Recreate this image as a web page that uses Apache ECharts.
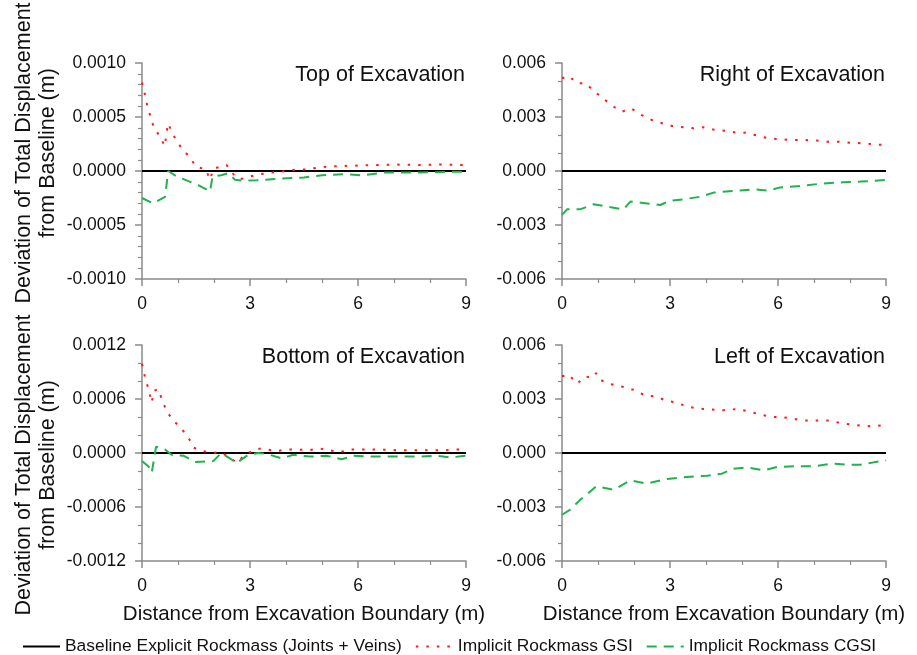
<!DOCTYPE html>
<html>
<head>
<meta charset="utf-8">
<script src="https://cdn.jsdelivr.net/npm/echarts@6/dist/echarts.min.js"></script>
<style>
  html, body { margin: 0; padding: 0; background: #fff; }
  #chart { width: 917px; height: 655px; }
</style>
</head>
<body>
<div id="chart"></div>
<script>
// Series names
const seriesNames = [
  'Baseline Explicit Rockmass (Joints + Veins)',
  'Implicit Rockmass GSI',
  'Implicit Rockmass CGSI'
];
const panelTitles = ['Top of Excavation', 'Right of Excavation', 'Bottom of Excavation', 'Left of Excavation'];
const yTitle = 'Deviation of Total Displacement\nfrom Baseline (m)';
const xTitle = 'Distance from Excavation Boundary (m)';

// Baseline (reference model) deviation is zero by definition
const baseX = [0, 9];
const baseY = [0, 0];

// Top of excavation
const topGsiX = [0, 0.08, 0.15, 0.24, 0.33, 0.5, 0.63, 0.67, 0.72, 0.81, 0.95, 1.13, 1.32, 1.5, 1.77, 1.89, 1.98, 2.17, 2.35, 2.54, 2.72, 3.0, 3.28, 3.55, 3.88, 4.2, 4.53, 5.13, 5.5, 6.0, 6.5, 7.0, 7.7, 8.3, 9.0];
const topGsi = [0.00082, 0.00071, 0.0006, 0.0005, 0.0004, 0.00032, 0.00023, 0.00032, 0.00044, 0.00038, 0.00028, 0.0002, 0.00013, 0.00004, 0.000015, -0.00008, 0.00002, 0.00004, 0.000055, -0.00003, -0.000077, -0.00005, -0.00003, -0.000015, -0.000006, 0.00001, 0.000015, 0.00004, 0.000046, 0.00005, 0.000055, 0.00006, 0.000055, 0.00006, 0.000055];
const topCgsiX = [0, 0.31, 0.64, 0.73, 0.96, 1.56, 1.89, 1.96, 2.2, 2.4, 2.58, 2.8, 3.2, 3.9, 4.5, 5.0, 5.6, 6.15, 6.7, 7.5, 8.3, 9.0];
const topCgsi = [-0.00025, -0.0003, -0.00024, 0, -0.00005, -0.00013, -0.00019, -0.00005, -0.00004, -0.00002, -0.00008, -0.00009, -0.000085, -0.00007, -0.00006, -0.00004, -0.00003, -0.00004, -0.000015, -0.000015, -0.00001, -0.000005];

// Right of excavation
const rightGsiX = [0, 0.19, 0.42, 0.65, 0.88, 1.16, 1.44, 1.67, 1.92, 2.22, 2.5, 2.78, 3.06, 3.38, 3.66, 3.94, 4.2, 4.5, 4.86, 5.1, 5.45, 5.78, 6.1, 6.44, 6.76, 7.08, 7.36, 7.69, 8.01, 8.33, 8.66, 9.0];
const rightGsi = [0.00515, 0.00528, 0.00487, 0.00487, 0.00446, 0.004, 0.00357, 0.0033, 0.00348, 0.0031, 0.00283, 0.00265, 0.0025, 0.00243, 0.00237, 0.00243, 0.0023, 0.00224, 0.00213, 0.00213, 0.00195, 0.0018, 0.00176, 0.00172, 0.00172, 0.00169, 0.00163, 0.00163, 0.00157, 0.00154, 0.00148, 0.00144];
const rightCgsiX = [0, 0.14, 0.5, 0.88, 1.25, 1.71, 1.9, 2.36, 2.73, 3.0, 3.38, 3.84, 4.21, 4.77, 5.32, 5.74, 6.06, 6.6, 7.27, 7.82, 8.29, 9.0];
const rightCgsi = [-0.00244, -0.00213, -0.00213, -0.00185, -0.00198, -0.00213, -0.0017, -0.0018, -0.00189, -0.00165, -0.00157, -0.00143, -0.0012, -0.00111, -0.00102, -0.00109, -0.00091, -0.00083, -0.00069, -0.00063, -0.00059, -0.0005];

// Bottom of excavation
const bottomGsiX = [0, 0.08, 0.18, 0.27, 0.33, 0.45, 0.57, 0.69, 0.87, 1.1, 1.32, 1.43, 1.7, 1.94, 2.17, 2.44, 2.63, 2.86, 3.19, 3.46, 3.74, 4.0, 4.3, 4.6, 4.94, 5.2, 5.5, 5.8, 6.15, 6.5, 7.17, 7.77, 8.4, 8.8, 9.0];
const bottomGsi = [0.00099, 0.00085, 0.00071, 0.00056, 0.00069, 0.00071, 0.00058, 0.00046, 0.00036, 0.00027, 0.00015, 0.00006, 0.00002, 0, 0.00001, -0.00005, -0.00011, -0.00002, 0.00005, 0.00004, 0.00002, 0.00004, 0.00004, 0.00003, 0.00005, 0.00003, 0.00001, 0.00004, 0.00004, 0.00004, 0.00003, 0.00003, 0.00003, 0.00004, 0.00004];
const bottomCgsiX = [0, 0.18, 0.27, 0.39, 0.64, 0.82, 1.15, 1.47, 1.98, 2.2, 2.44, 2.63, 2.95, 3.23, 3.46, 3.88, 4.2, 4.67, 5.13, 5.55, 5.87, 6.43, 7.07, 7.72, 8.18, 8.55, 9.0];
const bottomCgsi = [-0.00009, -0.00015, -0.00022, 0.00007, 0.00004, -0.00002, -0.00003, -0.0001, -0.00009, 0, -0.00006, -0.00011, -0.00002, 0, -0.00001, -0.00006, -0.00002, -0.00004, -0.00003, -0.00007, -0.00003, -0.00004, -0.00004, -0.00004, -0.00003, -0.00005, -0.00003];

// Left of excavation
const leftGsiX = [0, 0.19, 0.42, 0.65, 0.83, 0.95, 1.06, 1.3, 1.71, 2.04, 2.31, 2.59, 2.87, 3.15, 3.47, 3.8, 4.07, 4.4, 4.58, 4.86, 5.19, 5.51, 5.83, 6.1, 6.44, 6.76, 7.08, 7.41, 7.73, 8.06, 8.33, 8.66, 9.0];
const leftGsi = [0.00426, 0.00435, 0.00385, 0.00426, 0.00417, 0.00444, 0.00407, 0.00385, 0.00367, 0.00348, 0.00319, 0.00315, 0.00293, 0.00281, 0.00259, 0.00246, 0.00244, 0.00237, 0.0024, 0.00244, 0.00231, 0.00213, 0.002, 0.002, 0.00189, 0.00181, 0.00181, 0.00181, 0.00167, 0.00157, 0.00152, 0.00148, 0.00157];
const leftCgsiX = [0, 0.23, 0.51, 0.69, 0.95, 1.44, 1.9, 2.36, 2.92, 3.47, 4.03, 4.44, 4.77, 5.14, 5.6, 5.97, 6.44, 7.0, 7.5, 8.0, 8.29, 8.66, 9.0];
const leftCgsi = [-0.00343, -0.00315, -0.00259, -0.00231, -0.00185, -0.00204, -0.00152, -0.0017, -0.00144, -0.00133, -0.00126, -0.00115, -0.00087, -0.0008, -0.00096, -0.00078, -0.00074, -0.00074, -0.00059, -0.00065, -0.00065, -0.00052, -0.00041];

// Axis ranges per panel
const yMax = [0.001, 0.006, 0.0012, 0.006];
const yStep = [0.0005, 0.003, 0.0006, 0.003];
const yMinorSplit = [5, 3, 3, 3];
const yDecimals = [4, 3, 4, 3];
const xTicks = [0, 3, 6, 9];

const FONT = 'Arial, "Liberation Sans", sans-serif';
const INK = '#111';
const AXIS_GREY = '#8a8a8a';
const RED = '#ff1a1a';
const GREEN = '#22b24c';

const zip = (xs, ys) => xs.map((x, i) => [x, ys[i]]);

const panels = [
  { gsi: zip(topGsiX, topGsi), cgsi: zip(topCgsiX, topCgsi) },
  { gsi: zip(rightGsiX, rightGsi), cgsi: zip(rightCgsiX, rightCgsi) },
  { gsi: zip(bottomGsiX, bottomGsi), cgsi: zip(bottomCgsiX, bottomCgsi) },
  { gsi: zip(leftGsiX, leftGsi), cgsi: zip(leftCgsiX, leftCgsi) }
];

// Panel layout
const gridLeft = [142, 562, 142, 562];
const gridTop = [63, 63, 345, 345];
const GRID_W = 324, GRID_H = 216;

const grids = [], xAxes = [], yAxes = [], series = [], titles = [];

panels.forEach((p, i) => {
  grids.push({ left: gridLeft[i], top: gridTop[i], width: GRID_W, height: GRID_H });

  const isBottomRow = i >= 2;

  xAxes.push({
    type: 'value', gridIndex: i,
    min: xTicks[0], max: xTicks[xTicks.length - 1], interval: xTicks[1] - xTicks[0],
    axisLine: { show: true, onZero: false, lineStyle: { color: AXIS_GREY, width: 1.5 } },
    axisTick: { show: true, inside: false, length: 7, lineStyle: { color: AXIS_GREY, width: 1.5 } },
    minorTick: { show: true, splitNumber: 3, length: 4, lineStyle: { color: AXIS_GREY, width: 1.2 } },
    splitLine: { show: false },
    axisLabel: { fontFamily: FONT, fontSize: 17.5, color: INK, margin: 16 },
    name: isBottomRow ? xTitle : '',
    nameLocation: 'middle', nameGap: 43,
    nameTextStyle: { fontFamily: FONT, fontSize: 20.5, color: INK }
  });

  const dec = yDecimals[i];
  yAxes.push({
    type: 'value', gridIndex: i,
    min: -yMax[i], max: yMax[i], interval: yStep[i],
    axisLine: { show: true, onZero: false, lineStyle: { color: AXIS_GREY, width: 1.5 } },
    axisTick: { show: true, inside: false, length: 7, lineStyle: { color: AXIS_GREY, width: 1.5 } },
    minorTick: { show: true, splitNumber: yMinorSplit[i], length: 4, lineStyle: { color: AXIS_GREY, width: 1.2 } },
    splitLine: { show: false },
    axisLabel: {
      fontFamily: FONT, fontSize: 17.5, color: INK, margin: 16,
      formatter: v => (Math.abs(v) < 1e-12 ? 0 : v).toFixed(dec)
    }
  });

  titles.push({
    text: panelTitles[i],
    right: 917 - (gridLeft[i] + GRID_W) + 1,
    top: gridTop[i] + 1,
    padding: 0,
    textStyle: { fontFamily: FONT, fontSize: 21.5, fontWeight: 'normal', color: INK }
  });

  series.push({
    name: seriesNames[0], type: 'line', xAxisIndex: i, yAxisIndex: i,
    data: zip(baseX, baseY), showSymbol: false, symbol: 'none', z: 3,
    lineStyle: { color: '#000', width: 2, type: 'solid' }, itemStyle: { color: '#000' }
  });
  series.push({
    name: seriesNames[1], type: 'line', xAxisIndex: i, yAxisIndex: i,
    data: p.gsi, showSymbol: false, symbol: 'none', z: 4,
    lineStyle: { color: RED, width: 2, type: [2.5, 8] }, itemStyle: { color: RED }
  });
  series.push({
    name: seriesNames[2], type: 'line', xAxisIndex: i, yAxisIndex: i,
    data: p.cgsi, showSymbol: false, symbol: 'none', z: 4,
    lineStyle: { color: GREEN, width: 2, type: [10, 7] }, itemStyle: { color: GREEN }
  });
});

// Shared vertical axis titles, one per row
const yTitleCenters = [153, 465];
const graphics = yTitleCenters.map(cy => ({
  type: 'text', x: 36, y: cy, rotation: Math.PI / 2,
  style: {
    text: yTitle, fill: INK, font: '21.5px ' + FONT,
    align: 'center', verticalAlign: 'middle', lineHeight: 24
  }
}));

const chart = echarts.init(document.getElementById('chart'), null, { renderer: 'canvas' });
chart.setOption({
  animation: false,
  backgroundColor: '#fff',
  title: titles,
  grid: grids,
  xAxis: xAxes,
  yAxis: yAxes,
  graphic: graphics,
  legend: {
    data: seriesNames,
    left: 17, top: 633,
    itemWidth: 37, itemHeight: 12, itemGap: 13,
    itemStyle: { opacity: 0 },
    textStyle: { fontFamily: FONT, fontSize: 17.4, color: INK },
    selectedMode: false
  },
  series: series
});
</script>
</body>
</html>
